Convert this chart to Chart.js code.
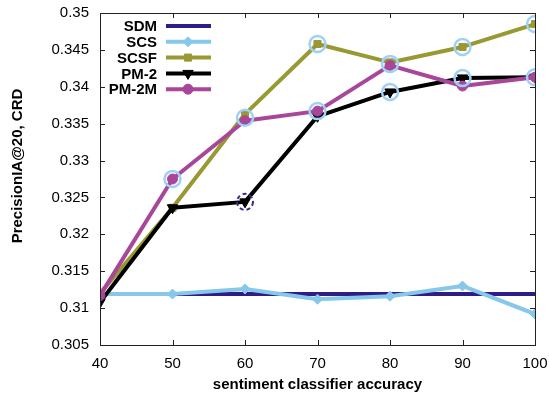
<!DOCTYPE html>
<html><head><meta charset="utf-8">
<script src="https://cdn.jsdelivr.net/npm/chart.js@4/dist/chart.umd.min.js"></script>
<style>html,body{margin:0;padding:0;background:#fff}#wrap{width:549px;height:396px}</style>
</head><body><div id="wrap"><canvas id="c" width="549" height="396"></canvas></div>
<script>
const accuracy = [40, 50, 60, 70, 80, 90, 100];
const sdm  = [0.3119, 0.3119, 0.3119, 0.3119, 0.3119, 0.3119, 0.3119];
const scs  = [0.3119, 0.3119, 0.3126, 0.3112, 0.3116, 0.3130, 0.3092];
const scsf = [0.3120, 0.3236, 0.3363, 0.3458, 0.3433, 0.3454, 0.3485];
const pm2  = [0.3108, 0.3236, 0.3244, 0.3360, 0.3393, 0.3412, 0.3413];
const pm2m = [0.3117, 0.3275, 0.3354, 0.3367, 0.3429, 0.3401, 0.3413];
const sigX = [50, 60, 70, 70, 80, 80, 90, 90, 100, 100];
const sigY = [0.3275, 0.3358, 0.3458, 0.3367, 0.3431, 0.3393, 0.3454, 0.3412, 0.3485, 0.3413];
const dashX = [60];
const dashY = [0.3244];
const yTicks = [0.305, 0.31, 0.315, 0.32, 0.325, 0.33, 0.335, 0.34, 0.345, 0.35];
const xTicks = [40, 50, 60, 70, 80, 90, 100];

const pts = (ys) => accuracy.map((x, i) => ({x, y: ys[i]}));
const FONT = '"Liberation Sans", Arial, sans-serif';

function mk(label, ys, color, style, radius, order, rot) {
  return {label, data: pts(ys), borderColor: color, backgroundColor: color,
    borderWidth: 4, pointStyle: style, pointRadius: radius, pointRotation: rot || 0,
    pointBorderWidth: 1, pointBackgroundColor: color, pointBorderColor: color,
    tension: 0, order, borderJoinStyle: 'round', showInLegend: true};
}

const datasets = [
  mk('SDM', sdm, '#2f1c86', false, 0, 6),
  mk('SCS', scs, '#87c8ea', 'rectRot', 5, 5),
  mk('SCSF', scsf, '#999933', 'rect', 5, 4),
  mk('PM-2', pm2, '#000000', 'triangle', 6, 3, 180),
  mk('PM-2M', pm2m, '#a8469a', 'circle', 5, 2),
  {label: 'sig', data: sigX.map((x, i) => ({x, y: sigY[i]})), showLine: false,
   pointStyle: 'circle', pointRadius: 8, pointBorderWidth: 2.5,
   pointBorderColor: '#9fd0f5', pointBackgroundColor: 'rgba(0,0,0,0)', order: 1}
];

const framePlugin = {
  id: 'frame',
  afterDatasetsDraw(chart) {
    const {ctx, chartArea: a, scales} = chart;
    ctx.save();
    ctx.strokeStyle = '#3b2a8c'; ctx.lineWidth = 2; ctx.setLineDash([4, 3]);
    dashX.forEach((x, i) => {
      ctx.beginPath();
      ctx.arc(scales.x.getPixelForValue(x), scales.y.getPixelForValue(dashY[i]), 8, 0, Math.PI * 2);
      ctx.stroke();
    });
    ctx.setLineDash([]);
    ctx.strokeStyle = '#222'; ctx.lineWidth = 1;
    ctx.strokeRect(a.left + 0.5, a.top + 0.5, a.right - a.left, a.bottom - a.top);
    ctx.beginPath();
    xTicks.forEach(v => {
      const px = Math.round(scales.x.getPixelForValue(v)) + 0.5;
      ctx.moveTo(px, a.bottom); ctx.lineTo(px, a.bottom - 5);
      ctx.moveTo(px, a.top); ctx.lineTo(px, a.top + 5);
    });
    yTicks.forEach(v => {
      const py = Math.round(scales.y.getPixelForValue(v)) + 0.5;
      ctx.moveTo(a.left, py); ctx.lineTo(a.left + 5, py);
      ctx.moveTo(a.right, py); ctx.lineTo(a.right - 5, py);
    });
    ctx.stroke();
    const items = datasets.filter(d => d.showInLegend);
    ctx.font = 'bold 15px ' + FONT;
    ctx.textAlign = 'right'; ctx.textBaseline = 'middle';
    items.forEach((d, i) => {
      const y = 26 + i * 15.8;
      ctx.fillStyle = '#000';
      ctx.fillText(d.label, 157, y + 1);
      ctx.strokeStyle = d.borderColor; ctx.lineWidth = 4;
      ctx.beginPath(); ctx.moveTo(166, y); ctx.lineTo(211, y); ctx.stroke();
      if (d.pointStyle) {
        ctx.fillStyle = d.borderColor; ctx.strokeStyle = d.borderColor; ctx.lineWidth = 1;
        Chart.helpers.drawPoint(ctx, {pointStyle: d.pointStyle, radius: d.pointRadius,
          rotation: d.pointRotation, borderWidth: 1}, 188, y);
      }
    });
    ctx.fillStyle = '#000';
    ctx.textAlign = 'center';
    ctx.font = 'bold 15px ' + FONT;
    ctx.fillText('sentiment classifier accuracy', (a.left + a.right) / 2, 385);
    ctx.translate(18, 166); ctx.rotate(-Math.PI / 2);
    ctx.fillText('PrecisionIA@20, CRD', 0, 0);
    ctx.restore();
  }
};

new Chart(document.getElementById('c'), {
  type: 'line',
  data: {datasets},
  options: {
    responsive: false, animation: false,
    layout: {padding: {top: 13, right: 14, left: 0, bottom: 0}},
    plugins: {legend: {display: false}, tooltip: {enabled: false}},
    scales: {
      x: {type: 'linear', min: 40, max: 100,
        afterBuildTicks: s => { s.ticks = xTicks.map(v => ({value: v})); },
        afterFit: s => { s.height = 51; s.paddingLeft = 0; s.paddingRight = 0; },
        grid: {display: false, drawTicks: false}, border: {display: false},
        ticks: {padding: 10, color: '#000', font: {family: FONT, size: 15}}},
      y: {min: 0.305, max: 0.35,
        afterBuildTicks: s => { s.ticks = yTicks.map(v => ({value: v})); },
        afterFit: s => { s.width = 100; s.paddingTop = 0; s.paddingBottom = 0; },
        grid: {display: false, drawTicks: false}, border: {display: false},
        ticks: {padding: 11, color: '#000', font: {family: FONT, size: 15},
          callback: v => String(Number(v.toFixed(3)))}}
    }
  },
  plugins: [framePlugin]
});
</script></body></html>
